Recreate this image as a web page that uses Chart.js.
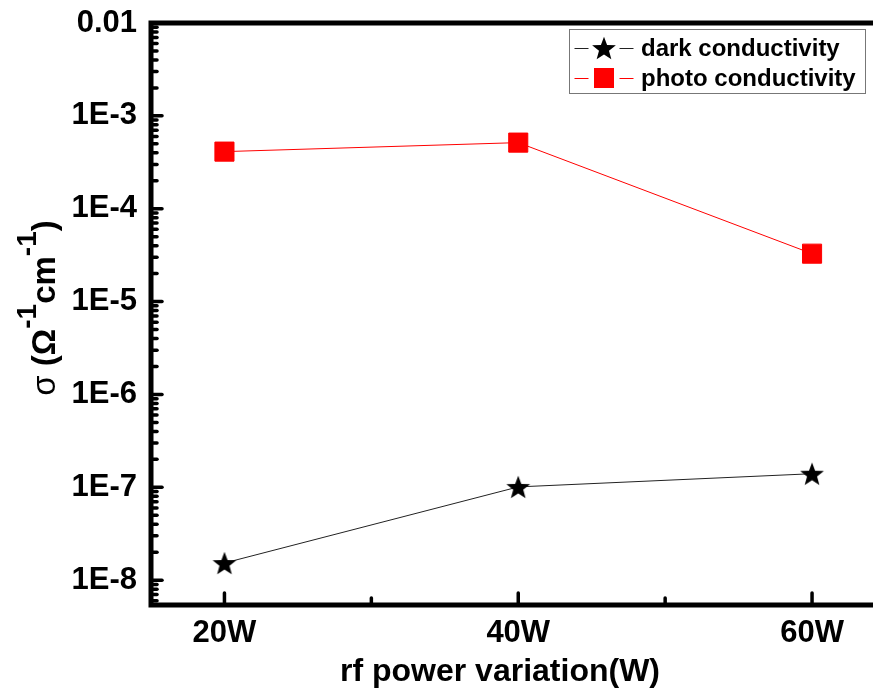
<!DOCTYPE html>
<html><head><meta charset="utf-8">
<script src="https://cdn.jsdelivr.net/npm/chart.js@4"></script>
<style>html,body{margin:0;padding:0;background:#fff;overflow:hidden;width:873px;height:696px}canvas{display:block}</style>
</head><body><canvas id="c" width="900" height="696" style="width:900px;height:696px"></canvas>
<script>
// ---- data ----
const powers = [20, 40, 60];
const xTickLabels = ['20W', '40W', '60W'];
const xMinorTicks = [30, 50];
const yTickValues = [1e-8, 1e-7, 1e-6, 1e-5, 1e-4, 1e-3, 1e-2];
const yTickLabels = ['1E-8', '1E-7', '1E-6', '1E-5', '1E-4', '1E-3', '0.01'];
const darkConductivity = [1.53e-8, 1.01e-7, 1.40e-7];
const photoConductivity = [4.12e-4, 5.15e-4, 3.28e-5];
const seriesNames = ['dark conductivity', 'photo conductivity'];
const xTitle = 'rf power variation(W)';

const FONT = "'Liberation Sans', Arial, sans-serif";

function makeStar(size, color) {
  const c = document.createElement('canvas');
  c.width = size; c.height = size;
  const g = c.getContext('2d');
  const R = size / 2 - 0.5, r = R * 0.42, cx = size / 2, cy = size / 2 + R * 0.095;
  g.beginPath();
  for (let i = 0; i < 10; i++) {
    const rad = i % 2 ? r : R;
    const a = -Math.PI / 2 + i * Math.PI / 5;
    g.lineTo(cx + rad * Math.cos(a), cy + rad * Math.sin(a));
  }
  g.closePath(); g.fillStyle = color; g.fill();
  return c;
}
const star = makeStar(26, '#000');

const decor = {
  id: 'decor',
  afterDraw(chart) {
    const { ctx, chartArea: a, scales: { x, y } } = chart;
    ctx.save();
    ctx.strokeStyle = '#000';
    ctx.lineCap = 'round';
    ctx.lineWidth = 3.5;
    // y ticks (inward)
    for (let d = -9; d <= -2; d++) {
      for (let m = 1; m <= 9; m++) {
        const v = m * Math.pow(10, d);
        if (v < y.min * 0.999 || v > y.max * 1.001) continue;
        const py = y.getPixelForValue(v);
        const len = m === 1 ? 11 : 6;
        ctx.beginPath(); ctx.moveTo(a.left, py); ctx.lineTo(a.left + len, py); ctx.stroke();
      }
    }
    // x ticks (inward)
    powers.forEach(v => {
      const px = x.getPixelForValue(v);
      ctx.beginPath(); ctx.moveTo(px, a.bottom); ctx.lineTo(px, a.bottom - 12); ctx.stroke();
    });
    xMinorTicks.forEach(v => {
      const px = x.getPixelForValue(v);
      ctx.beginPath(); ctx.moveTo(px, a.bottom); ctx.lineTo(px, a.bottom - 7); ctx.stroke();
    });
    // frame
    ctx.lineWidth = 5; ctx.lineCap = 'square'; ctx.lineJoin = 'miter';
    ctx.beginPath();
    ctx.moveTo(a.right + 10, a.top); ctx.lineTo(a.left, a.top);
    ctx.lineTo(a.left, a.bottom); ctx.lineTo(a.right + 10, a.bottom);
    ctx.stroke();

    // x title
    ctx.fillStyle = '#000';
    ctx.font = 'bold 32px ' + FONT;
    ctx.textAlign = 'center'; ctx.textBaseline = 'alphabetic';
    ctx.fillText(xTitle, 500, 681);

    // y title (rotated, with superscripts)
    const parts = [
      { t: 'σ', f: '33px ' + FONT, dy: 0 },
      { t: ' (', f: 'bold 33px ' + FONT, dy: 0 },
      { t: 'Ω', f: 'bold 33px ' + FONT, dy: 0 },
      { t: '-1', f: 'bold 28px ' + FONT, dy: -19 },
      { t: 'cm', f: 'bold 33px ' + FONT, dy: 0 },
      { t: '-1', f: 'bold 28px ' + FONT, dy: -19 },
      { t: ')', f: 'bold 33px ' + FONT, dy: 0 }
    ];
    let total = 0;
    parts.forEach(p => { ctx.font = p.f; p.w = ctx.measureText(p.t).width; total += p.w; });
    ctx.translate(55, 308);
    ctx.rotate(-Math.PI / 2);
    ctx.textAlign = 'left';
    let cx = -total / 2;
    parts.forEach(p => { ctx.font = p.f; ctx.fillText(p.t, cx, p.dy); cx += p.w; });
    ctx.setTransform(1, 0, 0, 1, 0, 0);

    // legend
    ctx.lineWidth = 1; ctx.strokeStyle = '#777';
    ctx.strokeRect(569.5, 29.5, 296, 64);
    const rows = [48, 78];
    chart.data.datasets.forEach((ds, i) => {
      const yy = rows[i];
      ctx.strokeStyle = ds.borderColor; ctx.lineWidth = 1;
      ctx.beginPath(); ctx.moveTo(575, yy + 0.5); ctx.lineTo(588, yy + 0.5);
      ctx.moveTo(620, yy + 0.5); ctx.lineTo(633, yy + 0.5); ctx.stroke();
      if (i === 0) {
        ctx.drawImage(star, 604 - 13, yy - 13);
      } else {
        ctx.fillStyle = ds.pointBackgroundColor;
        ctx.fillRect(594, yy - 10, 20, 20);
      }
      ctx.fillStyle = '#000';
      ctx.font = 'bold 24px ' + FONT;
      ctx.textAlign = 'left'; ctx.textBaseline = 'middle';
      ctx.fillText(ds.label, 641, yy + 1);
    });
    ctx.restore();
  }
};

new Chart(document.getElementById('c'), {
  type: 'line',
  data: {
    datasets: [
      {
        label: seriesNames[0],
        data: powers.map((p, i) => ({ x: p, y: darkConductivity[i] })),
        borderColor: '#222', borderWidth: 1,
        pointStyle: star, pointRadius: 13, pointHoverRadius: 13,
        tension: 0, fill: false
      },
      {
        label: seriesNames[1],
        data: powers.map((p, i) => ({ x: p, y: photoConductivity[i] })),
        borderColor: '#ff0000', borderWidth: 1,
        pointStyle: 'rect', pointRadius: 13.5, pointHoverRadius: 13.5,
        pointBackgroundColor: '#ff0000', pointBorderColor: '#ff0000', pointBorderWidth: 1,
        tension: 0, fill: false
      }
    ]
  },
  options: {
    responsive: false,
    devicePixelRatio: 1,
    animation: false,
    events: [],
    layout: { padding: { left: 0, top: 23, right: 0, bottom: 0 } },
    plugins: { legend: { display: false }, tooltip: { enabled: false } },
    scales: {
      x: {
        type: 'linear', min: 15, max: 65,
        grid: { display: false, drawTicks: false },
        border: { display: false },
        afterBuildTicks: s => { s.ticks = powers.map(v => ({ value: v })); },
        afterFit: s => { s.height = 91; },
        ticks: {
          autoSkip: false, maxRotation: 0, padding: 10, color: '#000',
          font: { family: FONT, size: 31, weight: 'bold' },
          callback: v => xTickLabels[powers.indexOf(v)] || ''
        }
      },
      y: {
        type: 'logarithmic', min: 5.4e-9, max: 1e-2,
        grid: { display: false, drawTicks: false },
        border: { display: false },
        afterBuildTicks: s => { s.ticks = yTickValues.map(v => ({ value: v })); },
        afterFit: s => { s.width = 151; s.paddingTop = 0; s.paddingBottom = 0; },
        ticks: {
          autoSkip: false, padding: 14, color: '#000',
          font: { family: FONT, size: 31, weight: 'bold' },
          callback: v => { const i = yTickValues.findIndex(t => Math.abs(t - v) / t < 1e-6); return i >= 0 ? yTickLabels[i] : ''; }
        }
      }
    }
  },
  plugins: [decor]
});
</script>
</body></html>
